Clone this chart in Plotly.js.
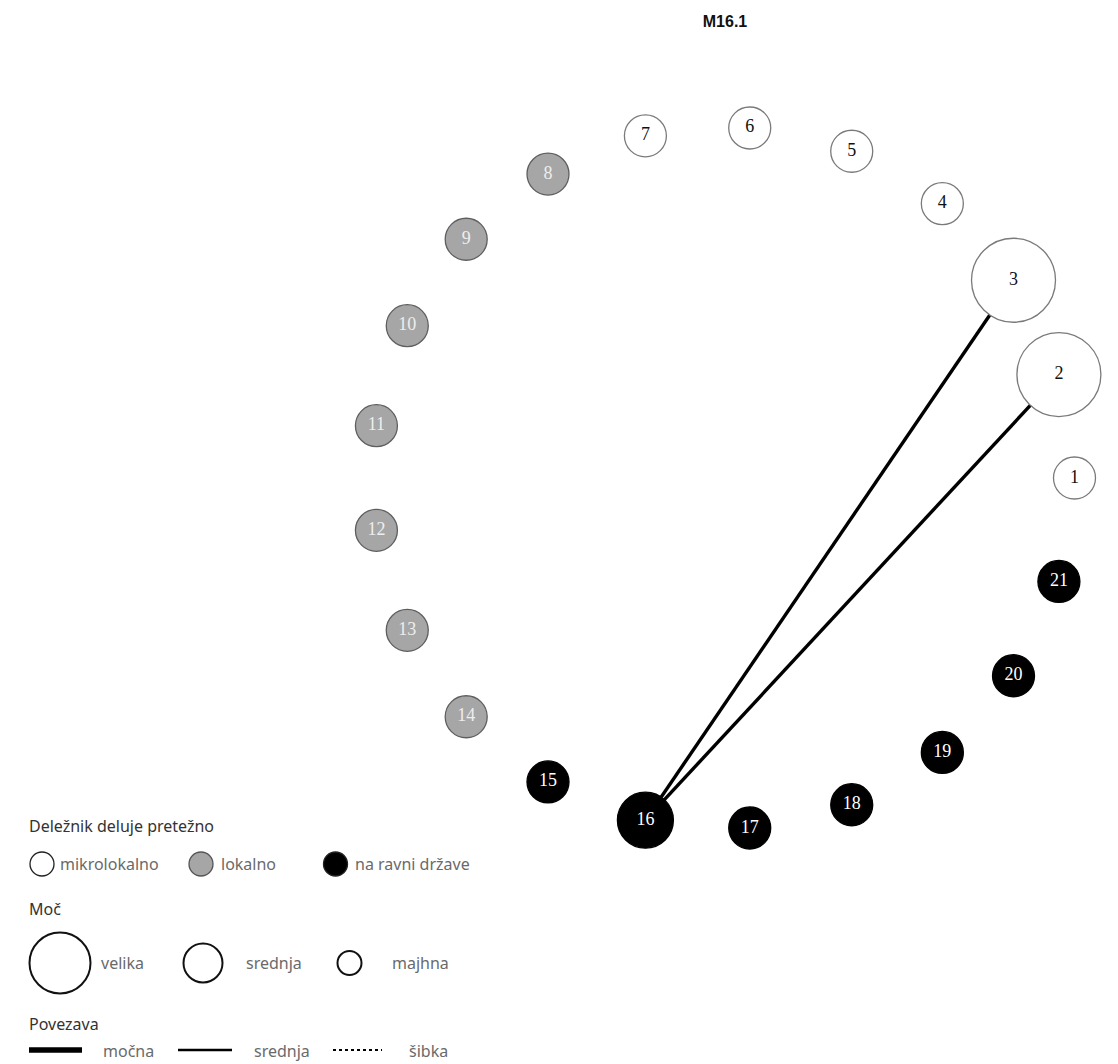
<!DOCTYPE html>
<html>
<head>
<meta charset="utf-8">
<script src="https://cdn.plot.ly/plotly-3.0.1.min.js"></script>
<style>html,body{margin:0;padding:0;background:#fff;}#chart{width:1118px;height:1064px;}</style>
</head>
<body>
<div id="chart"></div>
<script>
// ---------- DATA ----------
const chartTitle = 'M16.1';
const nodeIds = [1,2,3,4,5,6,7,8,9,10,11,12,13,14,15,16,17,18,19,20,21];
const nodeType = [
  'mikrolokalno','mikrolokalno','mikrolokalno','mikrolokalno','mikrolokalno','mikrolokalno','mikrolokalno',
  'lokalno','lokalno','lokalno','lokalno','lokalno','lokalno','lokalno',
  'na ravni države','na ravni države','na ravni države','na ravni države','na ravni države','na ravni države','na ravni države'
];
const nodePower = [
  'majhna','velika','velika','majhna','majhna','majhna','majhna',
  'majhna','majhna','majhna','majhna','majhna','majhna','majhna',
  'majhna','srednja','majhna','majhna','majhna','majhna','majhna'
];
const edgeFrom = [16, 16];
const edgeTo = [3, 2];
const edgeStrength = ['močna', 'močna'];

const legendTypeTitle = 'Deležnik deluje pretežno';
const typeLabels = ['mikrolokalno', 'lokalno', 'na ravni države'];
const legendPowerTitle = 'Moč';
const powerLabels = ['velika', 'srednja', 'majhna'];
const legendTieTitle = 'Povezava';
const tieLabels = ['močna', 'srednja', 'šibka'];

// ---------- STYLES ----------
const W = 1118, H = 1064;
const typeFill = {'mikrolokalno':'#ffffff','lokalno':'#a6a6a6','na ravni države':'#000000'};
const typeLine = {'mikrolokalno':'#7a7a7a','lokalno':'#5e5e5e','na ravni države':'#000000'};
const typeText = {'mikrolokalno':'#111111','lokalno':'#eeeeee','na ravni države':'#ffffff'};
const powerSize = {'velika':84,'srednja':56,'majhna':42};
const edgeWidth = {'močna':3.4,'srednja':2.2,'šibka':1.5};
const edgeDash = {'močna':'solid','srednja':'solid','šibka':'dot'};

// circular layout: unit circle, evenly spaced, counter-clockwise from the right
const n = nodeIds.length;
const nx = nodeIds.map((id,i)=>Math.cos(2*Math.PI*i/n));
const ny = nodeIds.map((id,i)=>Math.sin(2*Math.PI*i/n));
const pos = {};
nodeIds.forEach((id,i)=>{pos[id]=[nx[i],ny[i]];});

// axis ranges so that circle centre sits at pixel (723.5,478) with radius 351px
const cx = 723.5, cy = 478, R = 351;
const xr = [(0-cx)/R, (W-cx)/R];
const yr = [(cy-H)/R, (cy-0)/R];

const traces = [];
edgeFrom.forEach((f,k)=>{
  const t = edgeTo[k];
  traces.push({
    type:'scatter', mode:'lines', hoverinfo:'skip', showlegend:false,
    x:[pos[f][0], pos[t][0]], y:[pos[f][1], pos[t][1]],
    line:{color:'#000', width:edgeWidth[edgeStrength[k]], dash:edgeDash[edgeStrength[k]]}
  });
});
traces.push({
  type:'scatter', mode:'markers+text', showlegend:false, hoverinfo:'text',
  x:nx, y:ny, text:nodeIds.map(String), textposition:'middle center',
  textfont:{family:'Liberation Serif, Times New Roman, serif', size:18, color:nodeType.map(t=>typeText[t])},
  marker:{
    size:nodePower.map(p=>powerSize[p]),
    color:nodeType.map(t=>typeFill[t]),
    line:{color:nodeType.map(t=>typeLine[t]), width:1.3},
    opacity:1
  }
});

// ---------- LEGEND (pixel helpers) ----------
const px = x=>x/W, py = y=>1-y/H;
const shapes = [], ann = [];
const lf = 'Noto Sans, Open Sans, sans-serif';
function circ(x,y,r,fill,line,lw){
  shapes.push({type:'circle',xref:'paper',yref:'paper',x0:px(x-r),x1:px(x+r),y0:py(y+r),y1:py(y-r),
    fillcolor:fill,line:{color:line,width:lw}});
}
function txt(x,y,s,col){
  ann.push({xref:'paper',yref:'paper',x:px(x),y:py(y),text:s,showarrow:false,xanchor:'left',yanchor:'middle',
    font:{family:lf,size:16,color:col}});
}
txt(27,826,legendTypeTitle,'#333');
const typeX = [42,201,335.5], typeTX=[58,219,353];
typeLabels.forEach((l,i)=>{circ(typeX[i],864,12,typeFill[l],i==1?'#555':'#222',1.3);txt(typeTX[i],864,l,'#6a6a6a');});
txt(27,909,legendPowerTitle,'#333');
const powX=[60,203,349.5], powR=[30.5,19.5,12], powTX=[99,244,390];
powerLabels.forEach((l,i)=>{circ(powX[i],963,powR[i],'#fff','#111',2);txt(powTX[i],963,l,'#6a6a6a');});
txt(27,1024,legendTieTitle,'#333');
const tieX0=[29,178,333], tieX1=[82,232,382], tieW=[5.5,2.6,2.2], tieD=['solid','solid','dot'], tieTX=[101,252,407];
tieLabels.forEach((l,i)=>{
  shapes.push({type:'line',xref:'paper',yref:'paper',x0:px(tieX0[i]),x1:px(tieX1[i]),y0:py(1050),y1:py(1050),
    line:{color:'#000',width:tieW[i],dash:tieD[i]}});
  txt(tieTX[i],1051,l,'#6a6a6a');
});

const layout = {
  width:W, height:H, margin:{l:0,r:0,t:0,b:0}, paper_bgcolor:'#fff', plot_bgcolor:'#fff',
  title:{text:'<b>'+chartTitle+'</b>', x:px(725), xref:'paper', xanchor:'center', y:py(21), yref:'container', yanchor:'middle',
    font:{family:'Liberation Sans, Arial, sans-serif', size:16, color:'#111'}},
  xaxis:{range:xr, visible:false, fixedrange:true},
  yaxis:{range:yr, visible:false, fixedrange:true},
  shapes:shapes, annotations:ann, showlegend:false
};
Plotly.newPlot('chart', traces, layout, {displayModeBar:false, staticPlot:true});
</script>
</body>
</html>
